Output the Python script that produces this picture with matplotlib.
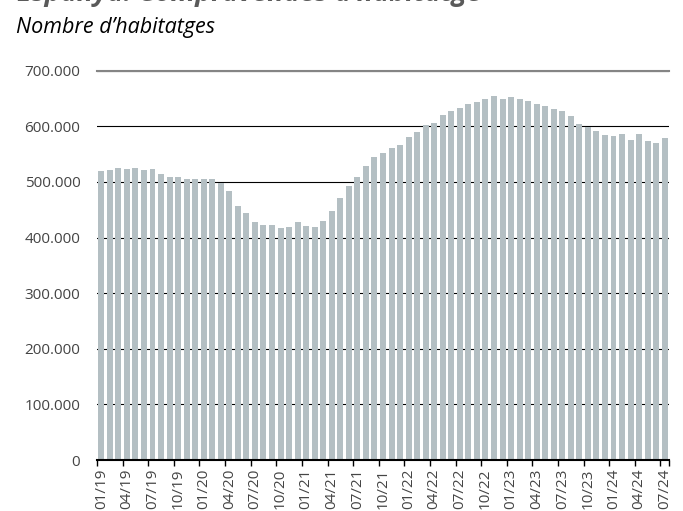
import matplotlib
matplotlib.use("Agg")
from matplotlib import pyplot as plt
from matplotlib.ticker import FuncFormatter, FixedLocator

plt.rcParams['font.family'] = ['Open Sans', 'DejaVu Sans']

# monthly values, 01/2019 .. 07/2024
months = []
for year in range(19, 25):
    for m in range(1, 13):
        if year == 24 and m > 7:
            break
        months.append("%02d/%02d" % (m, year))

values = [
    519, 521, 525, 523, 525, 521, 523, 515, 509, 509, 505, 506,   # 2019
    505, 506, 498, 484, 457, 444, 428, 423, 423, 417, 419, 428,   # 2020
    421, 419, 430, 447, 471, 492, 509, 528, 545, 552, 561, 567,   # 2021
    580, 590, 603, 606, 620, 628, 633, 641, 644, 650, 655, 650,   # 2022
    653, 649, 645, 641, 637, 632, 627, 619, 605, 599, 591, 584,   # 2023
    583, 586, 575, 586, 573, 570, 579,                            # 2024
]
values = [v * 1000 for v in values]

yticks = [0, 100000, 200000, 300000, 400000, 500000, 600000, 700000]

bar_color = "#b4bfc3"
text_grey = "#444444"

fig = plt.figure(figsize=(6.83, 5.11), dpi=100)
ax = fig.add_axes([97/683, 1 - 460/511, (669-97)/683, (460-70.7)/511])

x = list(range(len(values)))
ax.bar(x, values, width=0.7, color=bar_color, zorder=2)

ax.set_xlim(-0.5, len(values) - 0.5)
ax.set_ylim(0, 700000)

# y axis
ax.set_yticks(yticks)
ax.yaxis.set_major_formatter(FuncFormatter(lambda v, p: "{:,.0f}".format(v).replace(",", ".")))
ax.tick_params(axis='y', length=0, pad=12, labelsize=11, labelcolor=text_grey)
ax.grid(axis='y', color='black', linewidth=0.8, zorder=0)
ax.set_axisbelow(True)

# x axis: labels every 3 months, ticks on the boundaries
label_pos = x[::3]
ax.set_xticks(label_pos)
ax.set_xticklabels([months[i] for i in label_pos], rotation=90)
ax.tick_params(axis='x', which='major', length=0, pad=6, labelsize=11, labelcolor=text_grey)
ax.xaxis.set_minor_locator(FixedLocator([i - 0.5 for i in label_pos] + [len(values) - 0.5]))
ax.tick_params(axis='x', which='minor', length=4, width=1, color='black', direction='out')

for s in ['left', 'right']:
    ax.spines[s].set_visible(False)
ax.spines['top'].set_color('#858585')
ax.spines['top'].set_linewidth(1.5)
ax.spines['bottom'].set_color('black')
ax.spines['bottom'].set_linewidth(1.5)
ax.spines['bottom'].set_zorder(3)

fig.text(17/683, 1 - 1/511, "Espanya. Compravendes d’habitatge", fontsize=19.5,
         fontweight='bold', fontstyle='italic', color='#5a5a5a', va='baseline')
fig.text(16/683, 1 - 33/511, "Nombre d’habitatges", fontsize=15.5,
         fontstyle='italic', color='black', va='baseline')

fig.savefig("out.png", dpi=100)
